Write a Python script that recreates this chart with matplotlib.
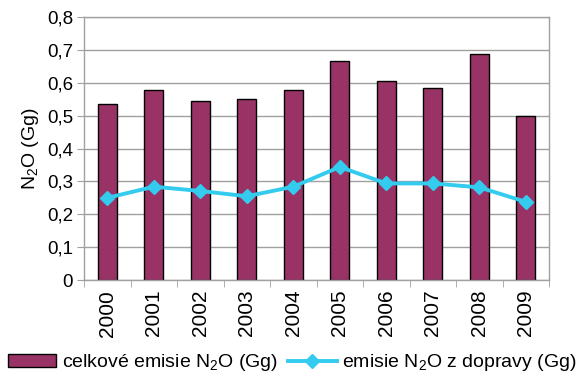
import numpy as np
import matplotlib
matplotlib.use("Agg")
import matplotlib.pyplot as plt
from matplotlib.ticker import FixedLocator, FuncFormatter

plt.rcParams["font.family"] = ["Liberation Sans", "DejaVu Sans"]
plt.rcParams["mathtext.fontset"] = "custom"
plt.rcParams["mathtext.rm"] = "Liberation Sans"
plt.rcParams["mathtext.default"] = "regular"

years = ["2000", "2001", "2002", "2003", "2004", "2005", "2006", "2007", "2008", "2009"]
total_n2o = [0.534, 0.578, 0.545, 0.550, 0.578, 0.666, 0.606, 0.584, 0.689, 0.499]
transport_n2o = [0.250, 0.284, 0.271, 0.255, 0.284, 0.344, 0.294, 0.294, 0.282, 0.238]

bar_color = "#993366"
line_color = "#33CCEE"
grid_color = "#a0a0a0"

fig = plt.figure(figsize=(5.81, 3.78), dpi=100)
ax = fig.add_axes([0.1446, 0.259, 0.8004, 0.696])

x = np.arange(len(years))
ax.bar(x, total_n2o, width=0.41, color=bar_color, edgecolor="black", lw=1.0,
       label="celkové emisie N$_2$O (Gg)", zorder=2)
ax.plot(x, transport_n2o, color=line_color, lw=2.8, marker="D", ms=7.5,
        mec=line_color, mfc=line_color, label="emisie N$_2$O z dopravy (Gg)", zorder=3)

ax.set_xlim(-0.5, len(years) - 0.5)
ax.set_ylim(0, 0.8)
ax.set_yticks(np.arange(0, 0.81, 0.1))
ax.yaxis.set_major_formatter(FuncFormatter(lambda v, p: "0" if v == 0 else f"{v:.1f}".replace(".", ",")))
ax.yaxis.grid(True, color=grid_color, lw=1.0, zorder=0)
ax.set_axisbelow(True)

ax.set_xticks(x)
ax.set_xticklabels(years, rotation=90)
ax.tick_params(axis="x", which="major", length=0, pad=7, labelsize=15)
ax.xaxis.set_minor_locator(FixedLocator(np.arange(-0.5, len(years), 1.0)))
ax.tick_params(axis="x", which="minor", length=5, direction="out", color=grid_color)
ax.tick_params(axis="y", length=5, color=grid_color, labelsize=13.5, pad=3)

for s in ax.spines.values():
    s.set_color(grid_color)
    s.set_linewidth(1.0)

ax.set_ylabel("N$_2$O (Gg)", fontsize=14, labelpad=4)

handles, labels = ax.get_legend_handles_labels()
fig.legend(handles[::-1], labels[::-1], loc="center", bbox_to_anchor=(0.503, 0.04), ncol=2,
           frameon=False, fontsize=14, handlelength=2.5, handletextpad=0.3,
           columnspacing=0.5, borderpad=0, borderaxespad=0)

fig.savefig("out.png", dpi=100)
